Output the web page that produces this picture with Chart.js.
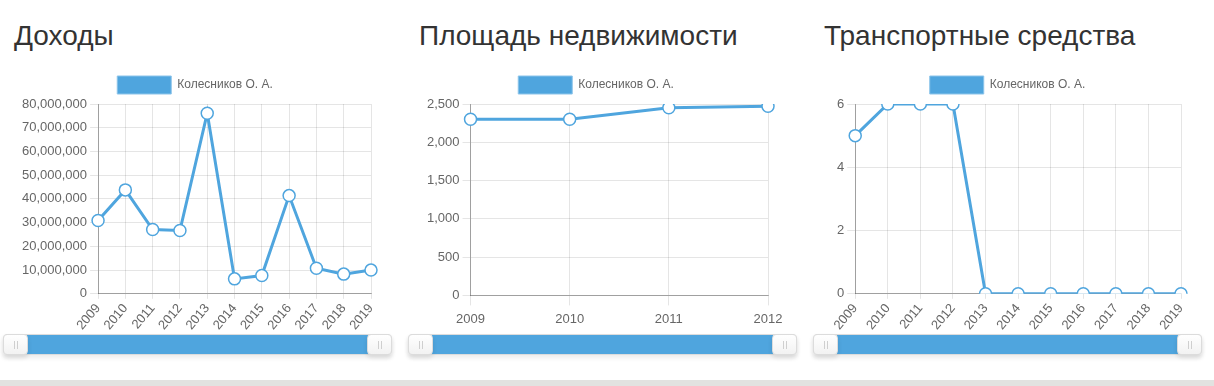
<!DOCTYPE html>
<html>
<head>
<meta charset="utf-8">
<script src="https://cdn.jsdelivr.net/npm/chart.js@4"></script>
<style>
  body { margin: 0; background: #fff; width: 1214px; height: 386px; overflow: hidden; position: relative; font-family: "Liberation Sans", Arial, Helvetica, sans-serif; }
  .panel { position: absolute; top: 0; width: 389px; height: 380px; }
  .panel h3 { position: absolute; left: 11px; top: 22px; margin: 0; font-size: 28px; line-height: 28px; font-weight: normal; color: #333; white-space: nowrap; }
  .box { position: absolute; left: 0; top: 65px; width: 389px; height: 273px; }
  .slider { position: absolute; left: 0; top: 334px; width: 387px; height: 19px; border: 1px solid #dcdcdc; border-radius: 4px; background: #f4f4f4; box-shadow: 0 3px 5px rgba(0,0,0,0.08); }
  .fill { position: absolute; left: 23px; right: 23px; top: 0; bottom: 0; background: #4fa5de; }
  .handle { position: absolute; top: -1px; width: 23px; height: 19px; border: 1px solid #dcdcdc; border-radius: 4px; background: linear-gradient(#ffffff, #f2f2f2); box-shadow: 0 3px 5px rgba(0,0,0,0.1); }
  .handle.l { left: -1px; }
  .handle.r { right: -1px; }
  .handle::before, .handle::after { content: ""; position: absolute; top: 6px; width: 1px; height: 8px; background: #cfcfcf; }
  .handle::before { left: 10px; }
  .handle::after { left: 13px; }
  .footer { position: absolute; left: 0; top: 380px; width: 1214px; height: 6px; background: #e2e2e0; }
</style>
</head>
<body>
<div class="panel" style="left:3px">
  <h3>Доходы</h3>
  <div class="box"><canvas id="income-chart"></canvas></div>
  <div class="slider"><div class="fill"></div><div class="handle l"></div><div class="handle r"></div></div>
</div>
<div class="panel" style="left:408px">
  <h3>Площадь недвижимости</h3>
  <div class="box"><canvas id="area-chart"></canvas></div>
  <div class="slider"><div class="fill"></div><div class="handle l"></div><div class="handle r"></div></div>
</div>
<div class="panel" style="left:813px">
  <h3>Транспортные средства</h3>
  <div class="box"><canvas id="vehicle-chart"></canvas></div>
  <div class="slider"><div class="fill"></div><div class="handle l"></div><div class="handle r"></div></div>
</div>
<div class="footer"></div>
<script>
const seriesName = 'Колесников О. А.';

const incomeYears = ['2009', '2010', '2011', '2012', '2013', '2014', '2015', '2016', '2017', '2018', '2019'];
const incomeValues = [30900000, 43800000, 27100000, 26700000, 76100000, 6300000, 7700000, 41400000, 10800000, 8300000, 10000000];
const incomeTicks = { max: 80000000, step: 10000000 };

const areaYears = ['2009', '2010', '2011', '2012'];
const areaValues = [2300, 2300, 2450, 2470];
const areaTicks = { max: 2500, step: 500 };

const vehicleYears = ['2009', '2010', '2011', '2012', '2013', '2014', '2015', '2016', '2017', '2018', '2019'];
const vehicleValues = [5, 6, 6, 6, 0, 0, 0, 0, 0, 0, 0];
const vehicleTicks = { max: 6, step: 2 };

const blue = '#4fa5de';
Chart.defaults.font.family = '"Liberation Sans", Arial, Helvetica, sans-serif';
Chart.defaults.color = '#666';

function makeChart(id, labels, values, ticks, rotate, xTick, padding) {
  let ctx = document.getElementById(id).getContext('2d');
  return new Chart(ctx, {
    type: 'line',
    data: {
      labels: labels,
      datasets: [{
        label: seriesName,
        data: values,
        borderColor: blue,
        backgroundColor: blue,
        borderWidth: 3,
        fill: false,
        tension: 0,
        pointRadius: 6,
        pointBorderWidth: 1.5,
        pointBackgroundColor: '#fff',
        pointBorderColor: blue
      }]
    },
    options: {
      responsive: true,
      maintainAspectRatio: false,
      animation: false,
      locale: 'en-US',
      layout: { padding: padding },
      plugins: {
        legend: {
          position: 'top',
          labels: {
            boxWidth: 54,
            boxHeight: 18,
            padding: 10,
            font: { size: 12 },
            color: '#666',
            generateLabels: (chart) => [{
              text: seriesName,
              fillStyle: blue,
              strokeStyle: '#8cc4ea',
              fontColor: '#666',
              lineWidth: 1,
              datasetIndex: 0
            }]
          }
        },
        tooltip: { enabled: false }
      },
      scales: {
        x: {
          grid: { color: 'rgba(0,0,0,0.1)', tickLength: xTick.len },
          border: { color: 'rgba(0,0,0,0.3)' },
          ticks: {
            font: { size: 13 },
            color: '#666',
            padding: xTick.pad,
            autoSkip: false,
            minRotation: rotate,
            maxRotation: rotate
          }
        },
        y: {
          min: 0,
          max: ticks.max,
          grid: { color: 'rgba(0,0,0,0.1)', tickLength: 8 },
          border: { color: 'rgba(0,0,0,0.3)' },
          ticks: {
            stepSize: ticks.step,
            font: { size: 13 },
            color: '#666',
            padding: 3
          }
        }
      }
    }
  });
}

let incomeChart = makeChart('income-chart', incomeYears, incomeValues, incomeTicks, 50,
  { len: 5, pad: 2 }, { left: 16, right: 21, top: 1, bottom: 3 });
let areaChart = makeChart('area-chart', areaYears, areaValues, areaTicks, 0,
  { len: 10, pad: 6 }, { left: 16, right: 29, top: 1, bottom: 5 });
let vehicleChart = makeChart('vehicle-chart', vehicleYears, vehicleValues, vehicleTicks, 50,
  { len: 5, pad: 2 }, { left: 21, right: 21, top: 1, bottom: 3 });
</script>
</body>
</html>
